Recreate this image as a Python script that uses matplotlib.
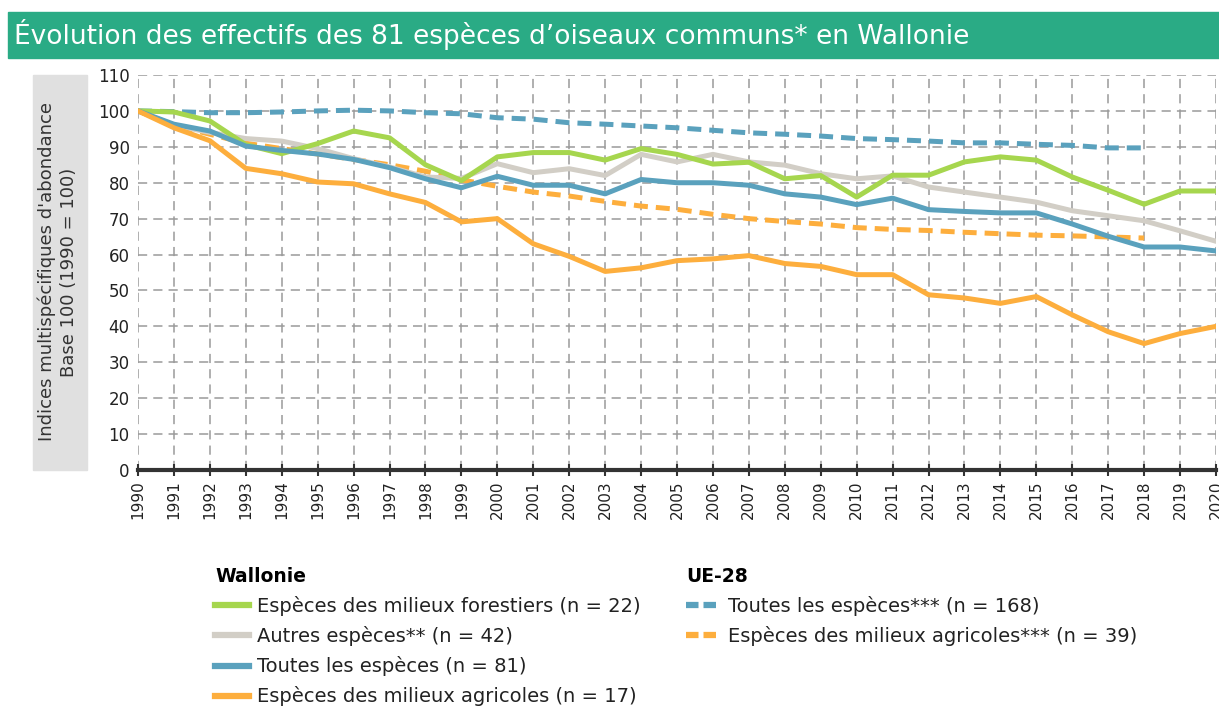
import matplotlib
matplotlib.use("Agg")
import matplotlib.pyplot as plt
from matplotlib.patches import Rectangle
from matplotlib.lines import Line2D

years = list(range(1990, 2021))
years_eu = list(range(1990, 2019))

forest = [100, 99.7, 97.2, 90.6, 88.1, 90.9, 94.4, 92.5, 85.0, 80.6, 87.2,
          88.4, 88.4, 86.3, 89.5, 87.9, 85.2, 85.7, 81.1, 82.0, 76.0,
          82.1, 82.1, 85.8, 87.2, 86.3, 81.6, 77.9, 74.0, 77.7, 77.7]
autres = [100, 96.0, 94.0, 92.3, 91.6, 89.5, 86.7, 84.4, 81.6, 81.2, 85.3,
          82.8, 83.9, 82.0, 87.9, 85.8, 87.9, 85.8, 84.9, 82.5, 81.1,
          81.9, 78.8, 77.4, 76.0, 74.6, 72.2, 70.8, 69.4, 66.6, 63.7]
toutes = [100, 96.3, 94.4, 90.2, 89.0, 88.0, 86.5, 84.2, 81.1, 78.6, 81.8,
          79.3, 79.3, 76.9, 80.9, 80.0, 80.0, 79.3, 76.9, 76.0, 73.9,
          75.7, 72.5, 72.0, 71.6, 71.6, 68.5, 65.1, 62.1, 62.1, 61.0]
agricoles = [100, 95.3, 91.7, 84.0, 82.5, 80.2, 79.7, 76.9, 74.5, 69.1, 70.0,
             63.0, 59.5, 55.3, 56.3, 58.3, 58.8, 59.7, 57.5, 56.7, 54.4,
             54.4, 48.8, 47.9, 46.4, 48.3, 43.2, 38.5, 35.2, 38.0, 40.0]
eu_toutes = [100, 99.8, 99.5, 99.5, 99.7, 100.0, 100.2, 100.0, 99.5, 99.2, 98.1,
             97.7, 96.7, 96.3, 95.8, 95.3, 94.6, 93.9, 93.5, 93.0, 92.3,
             92.0, 91.6, 91.1, 91.1, 90.7, 90.4, 89.7, 89.7]
eu_agricoles = [100, 96.0, 93.5, 91.0, 89.5, 88.0, 86.5, 85.0, 83.2, 80.8, 79.0,
                77.4, 76.3, 74.8, 73.5, 72.6, 71.2, 70.0, 69.2, 68.5, 67.5,
                67.0, 66.7, 66.2, 65.8, 65.4, 65.2, 64.9, 64.6]

labels_wal = ["Espèces des milieux forestiers (n = 22)",
              "Autres espèces** (n = 42)",
              "Toutes les espèces (n = 81)",
              "Espèces des milieux agricoles (n = 17)"]
labels_eu = ["Toutes les espèces*** (n = 168)",
             "Espèces des milieux agricoles*** (n = 39)"]
title = "Évolution des effectifs des 81 espèces d’oiseaux communs* en Wallonie"
ylabel = "Indices multispécifiques d'abondance\nBase 100 (1990 = 100)"

C_GREEN = "#a6d64e"
C_GREY = "#d2cec6"
C_BLUE = "#5aa1bd"
C_ORANGE = "#fdae3d"
C_BANNER = "#2aab85"

plt.rcParams['font.family'] = ['DejaVu Sans']
W, H = 1219, 706
fig = plt.figure(figsize=(W / 100, H / 100), dpi=100)

def fx(px):
    return px / W

def fy(py):
    return 1 - py / H

# title banner
fig.patches.append(Rectangle((fx(8), fy(58)), fx(1219) - fx(8), fy(12) - fy(58),
                             transform=fig.transFigure, color=C_BANNER, zorder=0))
fig.text(fx(14), fy(35), title, color="white", fontsize=19, va="center", ha="left")

# ylabel box
fig.patches.append(Rectangle((fx(33), fy(470)), fx(87) - fx(33), fy(75) - fy(470),
                             transform=fig.transFigure, color="#e0e0e0", zorder=0))
fig.text(fx(58), fy(272), ylabel, rotation=90, ha="center", va="center",
         fontsize=13, color="#333333", multialignment="center", linespacing=1.3)

ax = fig.add_axes([fx(138), fy(470), fx(1216) - fx(138), fy(75) - fy(470)])
lw = 3.6
ax.plot(years_eu, eu_toutes, color=C_BLUE, lw=lw, dashes=(2.8, 1.6), zorder=3)
ax.plot(years_eu, eu_agricoles, color=C_ORANGE, lw=lw, dashes=(2.8, 1.6), zorder=3)
ax.plot(years, autres, color=C_GREY, lw=lw, zorder=4)
ax.plot(years, forest, color=C_GREEN, lw=lw, zorder=5)
ax.plot(years, toutes, color=C_BLUE, lw=lw, zorder=6)
ax.plot(years, agricoles, color=C_ORANGE, lw=lw, zorder=7)

ax.set_xlim(1990, 2020)
ax.set_ylim(0, 110)
ax.set_xticks(years)
ax.set_xticklabels([str(y) for y in years], rotation=90, fontsize=11)
ax.set_yticks(range(0, 111, 10))
ax.tick_params(axis="y", labelsize=12, length=0, pad=6, labelcolor="#222222")
ax.tick_params(axis="x", direction="inout", length=9, width=1.5, color="#333333", pad=3,
               labelcolor="#222222")
ax.grid(True, color="#9a9a9a", lw=1.1, linestyle=(0, (6, 4)))
ax.set_axisbelow(True)
for s in ["left", "top", "right"]:
    ax.spines[s].set_visible(False)
ax.spines["bottom"].set_linewidth(3)
ax.spines["bottom"].set_color("#333333")
ax.spines["bottom"].set_zorder(10)

# legends
h_wal = [Line2D([], [], color=c, lw=4.5) for c in [C_GREEN, C_GREY, C_BLUE, C_ORANGE]]
h_eu = [Line2D([], [], color=c, lw=4.5, dashes=(2.0, 0.8)) for c in [C_BLUE, C_ORANGE]]
lk = dict(frameon=False, fontsize=14, handlelength=1.75, handletextpad=0.4,
          labelspacing=0.52, alignment="left", borderpad=0, borderaxespad=0,
          labelcolor="#222222")
leg1 = fig.legend(h_wal, labels_wal, title="Wallonie", loc="upper left",
                  bbox_to_anchor=(fx(215), fy(567)), **lk)
leg1.get_title().set_fontweight("bold")
leg1.get_title().set_fontsize(13.5)
leg2 = fig.legend(h_eu, labels_eu, title="UE-28", loc="upper left",
                  bbox_to_anchor=(fx(686), fy(567)), **lk)
leg2.get_title().set_fontweight("bold")
leg2.get_title().set_fontsize(13.5)

fig.savefig("out.png", dpi=100)
